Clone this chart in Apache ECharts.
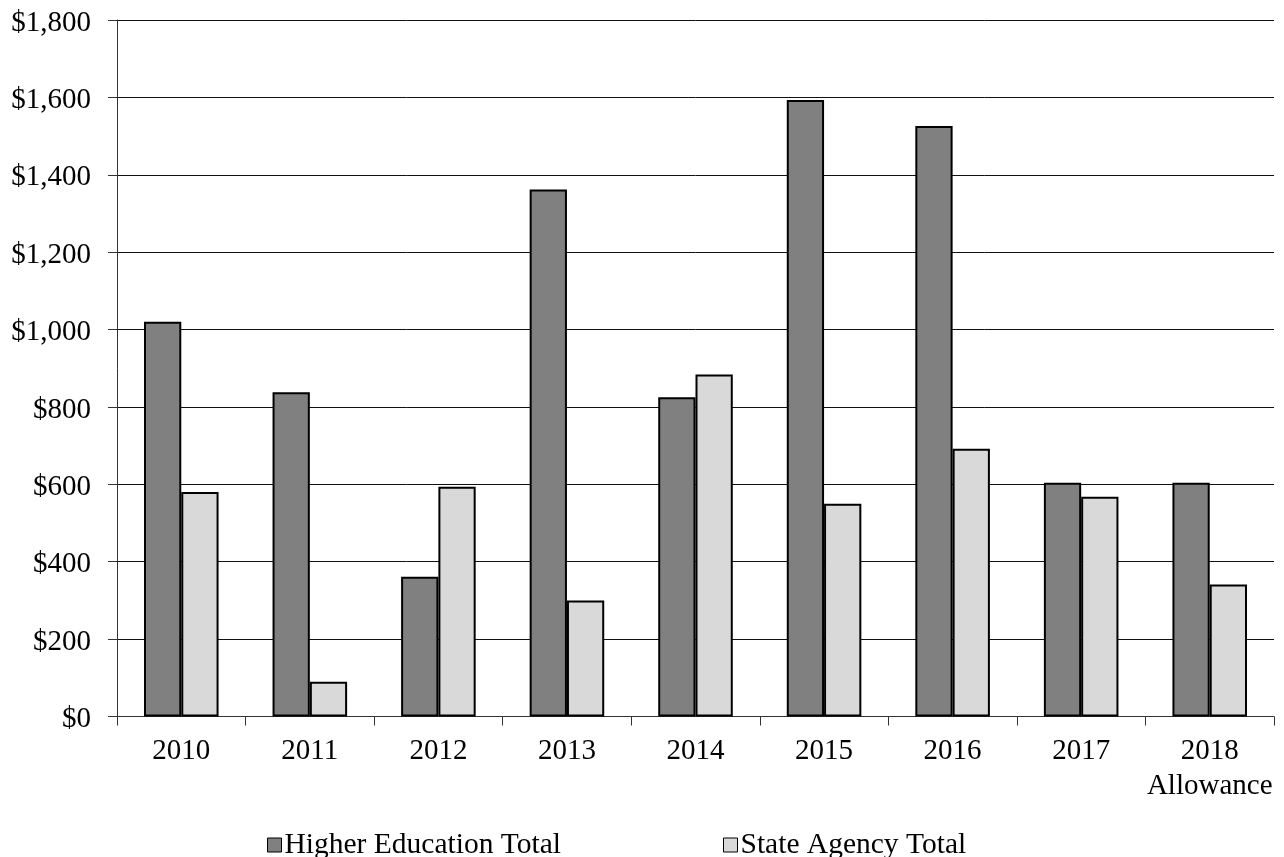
<!DOCTYPE html>
<html>
<head>
<meta charset="utf-8">
<script src="https://cdn.jsdelivr.net/npm/echarts@6/dist/echarts.min.js"></script>
<style>
  html, body { margin: 0; padding: 0; background: #fff; }
  #chart { width: 1284px; height: 857px; }
</style>
</head>
<body>
<div id="chart"></div>
<script>
// 年度
var categories = ['2010', '2011', '2012', '2013', '2014', '2015', '2016', '2017', '2018\nAllowance'];
// Higher Education Total
var higherEd = [1020, 838, 361, 1362, 825, 1593, 1526, 604, 604];
// State Agency Total
var stateAgency = [580, 90, 594, 300, 884, 550, 692, 568, 341];
var yMin = 0;
var yMax = 1800;
var yStep = 200;

var font = 'Liberation Serif';

/*金额格式化*/
function money(v) {
  return '{v|$' + String(v).replace(/\B(?=(\d{3})+(?!\d))/g, ',') + '}';
}

function legendBox(name, left) {
  return {
    data: [name],
    left: left, top: 825,
    icon: 'rect',
    itemWidth: 14, itemHeight: 14, itemGap: 5,
    itemStyle: { borderColor: '#000', borderWidth: 1 },
    textStyle: { fontFamily: font, fontSize: 29.5, color: '#000', padding: [0, 0, 0, -2] }
  };
}

var chart = echarts.init(document.getElementById('chart'));
chart.setOption({
  backgroundColor: '#fff',
  animation: false,
  textStyle: { fontFamily: font, color: '#000' },
  grid: { left: 117, right: 10, top: 20, bottom: 140.5 },
  legend: [
    legendBox('Higher Education Total', 262),
    legendBox('State Agency Total', 718)
  ],
  xAxis: {
    type: 'category',
    data: categories,
    axisLine: { lineStyle: { color: '#333', width: 1 } },
    axisTick: { show: true, interval: 0, length: 9, lineStyle: { color: '#333' } },
    axisLabel: {
      interval: 0, margin: 17,
      fontFamily: font, fontSize: 29, color: '#000', lineHeight: 35
    }
  },
  yAxis: {
    type: 'value',
    min: yMin, max: yMax, interval: yStep,
    axisLine: { show: true, lineStyle: { color: '#333', width: 1 } },
    axisTick: { show: true, length: 9, lineStyle: { color: '#333' } },
    axisLabel: {
      margin: 26,
      fontFamily: font, fontSize: 29, color: '#000',
      formatter: money,
      rich: {
        v: { fontFamily: font, fontSize: 29, color: '#000', padding: [6, 0, 0, 0] }
      }
    },
    splitLine: { show: true, lineStyle: { color: '#111', width: 1 } }
  },
  series: [
    {
      name: 'Higher Education Total',
      type: 'bar',
      data: higherEd,
      barGap: '0%',
      barCategoryGap: '42%',
      itemStyle: { color: '#808080', borderColor: '#000', borderWidth: 2 }
    },
    {
      name: 'State Agency Total',
      type: 'bar',
      data: stateAgency,
      itemStyle: { color: '#d9d9d9', borderColor: '#000', borderWidth: 2 }
    }
  ]
});
</script>
</body>
</html>
